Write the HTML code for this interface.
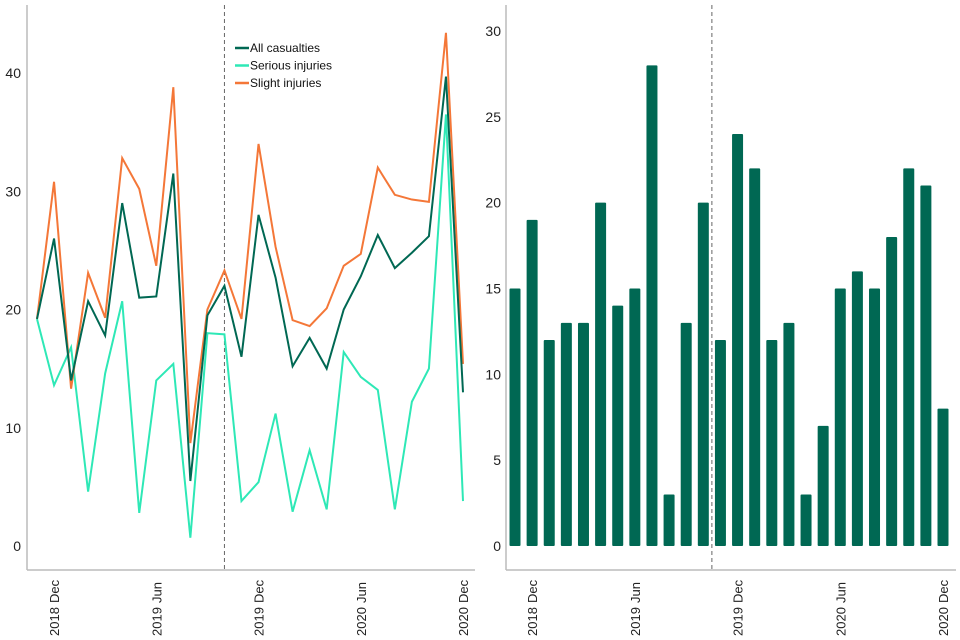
<!DOCTYPE html>
<html><head><meta charset="utf-8"><style>
body{margin:0;background:#fff;}
svg{display:block;font-family:"Liberation Sans",Arial,sans-serif;}
</style></head><body>
<svg id="c" width="960" height="640"></svg>
<script>
const months = ["Nov 2018","Dec 2018","Jan 2019","Feb 2019","Mar 2019","Apr 2019","May 2019","Jun 2019","Jul 2019","Aug 2019","Sep 2019","Oct 2019","Nov 2019","Dec 2019","Jan 2020","Feb 2020","Mar 2020","Apr 2020","May 2020","Jun 2020","Jul 2020","Aug 2020","Sep 2020","Oct 2020","Nov 2020","Dec 2020"];
const allCasualties = [19.2,26,14,20.7,17.8,29,21,21.1,31.5,5.5,19.5,22,16,28,22.7,15.2,17.6,15,20,22.8,26.3,23.5,24.8,26.2,39.7,13];
const seriousInjuries = [19.2,13.6,16.8,4.6,14.6,20.7,2.8,14,15.4,0.7,18,17.9,3.8,5.4,11.2,2.9,8.1,3.1,16.4,14.3,13.2,3.1,12.2,15,36.5,3.8];
const slightInjuries = [19.2,30.8,13.3,23.1,19.3,32.8,30.2,23.7,38.8,8.7,20,23.3,19.2,34,25.3,19.1,18.6,20.1,23.7,24.7,32,29.7,29.3,29.1,43.4,15.4];
const barValues = [15,19,12,13,13,20,14,15,28,3,13,20,12,24,22,12,13,3,7,15,16,15,18,22,21,8];
const leftTicks = [0,10,20,30,40];
const rightTicks = [0,5,10,15,20,25,30];
const tickIdx = [1,7,13,19,25];
const tickYears = ["2018","2019","2019","2020","2020"];
const tickMonths = ["Dec","Jun","Dec","Jun","Dec"];
const dividerIndex = 11;

const NS="http://www.w3.org/2000/svg";
const svg=document.getElementById('c');
function mk(tag,attrs,parent){const e=document.createElementNS(NS,tag);for(const k in attrs)e.setAttribute(k,attrs[k]);(parent||svg).appendChild(e);return e;}
const lx=i=>37+i*(463-37)/(months.length-1);
const ly=v=>546-v*(546-73)/40;
const rx=i=>515+i*(943-515)/(months.length-1);
const ry=v=>546-v*(546-31)/30;

// left axes
let e;
e=mk('line',{x1:27,y1:5,x2:27,y2:570,stroke:'#bbb','stroke-width':1.5});


e=mk('line',{x1:27,y1:570,x2:475,y2:570,stroke:'#bbb','stroke-width':1.5});


leftTicks.forEach(t=>{const tx=mk('text',{x:21,y:ly(t)+5,'text-anchor':'end','font-size':14,fill:'#222'});tx.textContent=t;

});
e=mk('line',{x1:lx(dividerIndex),y1:5,x2:lx(dividerIndex),y2:570,stroke:'#666','stroke-dasharray':'4,3'});



// right axes
e=mk('line',{x1:506,y1:5,x2:506,y2:570,stroke:'#bbb','stroke-width':1.5});


e=mk('line',{x1:506,y1:570,x2:956,y2:570,stroke:'#bbb','stroke-width':1.5});


rightTicks.forEach(t=>{const tx=mk('text',{x:501,y:ry(t)+5,'text-anchor':'end','font-size':14,fill:'#222'});tx.textContent=t;

});

// bars
barValues.forEach((v,i)=>{const b=mk('rect',{x:rx(i)-5.5,y:ry(v),width:11,height:ry(0)-ry(v),fill:'#006853',rx:1});

});
e=mk('line',{x1:(rx(dividerIndex)+rx(dividerIndex+1))/2,y1:5,x2:(rx(dividerIndex)+rx(dividerIndex+1))/2,y2:570,stroke:'#666','stroke-dasharray':'4,3'});



// lines
const series=[[allCasualties,'#006853','all-casualties-line'],[seriousInjuries,'#2ee8b6','serious-injuries-line'],[slightInjuries,'#f47738','slight-injuries-line']];
[series[1],series[2],series[0]].forEach(s=>{const p=mk('polyline',{points:s[0].map((v,i)=>lx(i)+','+ly(v)).join(' '),fill:'none',stroke:s[1],'stroke-width':2});

});

// x labels
function xlabels(fx,prefix){tickIdx.forEach((idx,k)=>{const x=fx(idx)+5;
const m=mk('text',{transform:`translate(${x},603) rotate(-90)`,'font-size':13,fill:'#222'});m.textContent=tickMonths[k];


const y=mk('text',{transform:`translate(${x},636) rotate(-90)`,'font-size':13,fill:'#222'});y.textContent=tickYears[k];

});}
xlabels(lx,'left');xlabels(rx,'right');

// legend
const labels=['All casualties','Serious injuries','Slight injuries'];
series.forEach((s,k)=>{const yy=48+k*17.5;
const g=mk('g',{});


mk('line',{x1:235,y1:yy,x2:249,y2:yy,stroke:s[1],'stroke-width':2.5},g);
const t=mk('text',{x:250,y:yy+4,'font-size':12,fill:'#111'},g);t.textContent=labels[k];});
</script>
</body></html>
